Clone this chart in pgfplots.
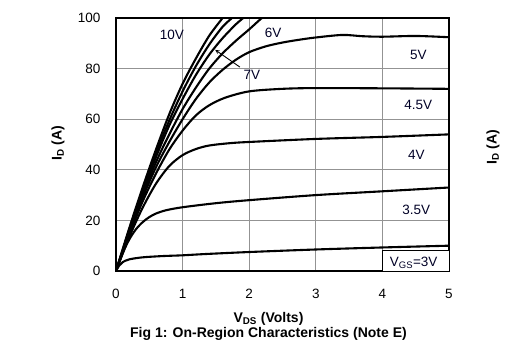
\documentclass[border=0pt]{standalone}
\usepackage{pgfplots}
\pgfplotsset{compat=1.18}
\usepackage{fontspec}
\setmainfont{Liberation Sans}
\begin{document}
\begin{tikzpicture}
\useasboundingbox (-116pt,-87pt) rectangle (396pt,271pt);
\begin{axis}[
  at={(0pt,0pt)}, anchor=south west,
  width=333pt, height=253pt, scale only axis,
  xmin=0, xmax=5, ymin=0, ymax=100,
  xtick={0,1,2,3,4,5}, ytick={0,20,40,60,80,100},
  grid=major, major grid style={gray!85, line width=0.9pt},
  major tick length=0pt,
  axis line style={black, line width=1.4pt},
  tick label style={font=\fontsize{13.5}{15}\selectfont},
  xticklabel style={yshift=-15pt},
  yticklabel style={xshift=-12pt},
  /pgf/number format/assume math mode=true,
  clip=true,
]
\addplot[black, line width=2.1pt, smooth] coordinates {(0,0)(0.2,17)(0.4,33)(0.6,48)(0.8,62)(1.0,74)(1.2,84)(1.4,93)(1.6,100)(1.65,102)};
\addplot[black, line width=2.1pt, smooth] coordinates {(0,0)(0.2,16.5)(0.4,32)(0.6,46.5)(0.8,59.5)(1.0,71)(1.2,81)(1.4,89.5)(1.6,96.5)(1.74,100)(1.8,102)};
\addplot[black, line width=2.1pt, smooth] coordinates {(0,0)(0.2,16)(0.4,31)(0.6,45)(0.8,57.5)(1.0,68)(1.2,77.5)(1.4,85.5)(1.6,92)(1.8,97.5)(1.91,100)(1.98,102)};
\addplot[black, line width=2.1pt, smooth] coordinates {(0,0)(0.2,15.5)(0.4,30)(0.6,43)(0.8,54)(1.0,64)(1.2,72.5)(1.4,80)(1.6,86)(1.8,91)(2.0,95.5)(2.19,100)(2.3,102)};
\addplot[black, line width=2.1pt, smooth] coordinates {(0,0)(0.2,15)(0.4,29)(0.6,41)(0.8,51)(1.0,60)(1.2,68)(1.4,74.5)(1.6,79.5)(1.8,83.5)(2.0,86.5)(2.25,88.8)(2.5,90.3)(2.75,91.4)(3.0,92.3)(3.4,93.3)(3.7,92.8)(4.0,92.6)(4.5,92.9)(5.0,92.4)};
\addplot[black, line width=2.1pt, smooth] coordinates {(0,0)(0.2,14.5)(0.4,27.5)(0.6,38.5)(0.8,48)(1.0,55.5)(1.2,61.5)(1.4,65.5)(1.64,68.5)(2.0,71)(2.5,72)(3,72.3)(4,72.2)(5,72)};
\addplot[black, line width=2.1pt, smooth] coordinates {(0,0)(0.2,13.5)(0.4,25)(0.6,34.5)(0.8,41.5)(1.0,45.8)(1.2,48.2)(1.4,49.6)(1.7,50.5)(2,51)(3,52.2)(4,53)(5,54)};
\addplot[black, line width=2.1pt, smooth] coordinates {(0,0)(0.1,7)(0.2,12.5)(0.3,16.5)(0.4,19.3)(0.5,21.3)(0.6,22.7)(0.75,24)(1,25.2)(1.5,26.8)(2,28)(3,30)(4,31.5)(5,33)};
\addplot[black, line width=2.1pt, smooth] coordinates {(0,0)(0.05,2.2)(0.1,3.5)(0.2,4.6)(0.4,5.4)(0.7,5.9)(1,6.2)(1.34,6.7)(2,7.5)(3,8.5)(4,9.3)(5,10)};
\draw[black, line width=0.9pt, -stealth] (axis cs:1.86,80.6) -- (axis cs:1.49,87.4);
\begin{scope}[every node/.style={font=\fontsize{13.5}{15}\selectfont, text=black!85!blue}]
\node at (axis cs:0.84,93.3) {10V};
\node at (axis cs:2.36,94) {6V};
\node at (axis cs:2.04,77.5) {7V};
\node at (axis cs:4.54,85.4) {5V};
\node at (axis cs:4.54,65.6) {4.5V};
\node at (axis cs:4.51,45.8) {4V};
\node[fill=white, inner sep=2pt] at (axis cs:4.51,24.1) {3.5V};
\end{scope}
\filldraw[fill=white, draw=black, line width=0.6pt] (axis cs:4,0) rectangle (axis cs:5,8.2);
\node[font=\fontsize{13.5}{15}\selectfont, text=black!85!blue] at (axis cs:4.47,3.3) {V\textsubscript{GS}=3V};
\end{axis}
\node[rotate=90, font=\bfseries\fontsize{14}{16}\selectfont] at (-58pt,128pt) {I\textsubscript{D} (A)};
\node[rotate=90, font=\bfseries\fontsize{14}{16}\selectfont] at (377pt,124pt) {I\textsubscript{D} (A)};
\node[font=\bfseries\fontsize{14}{16}\selectfont] at (152.5pt,-48pt) {V\textsubscript{DS} (Volts)};
\node[font=\bfseries\fontsize{14}{16}\selectfont] at (152.5pt,-63pt) {Fig 1: On-Region Characteristics (Note E)};
\end{tikzpicture}
\end{document}
